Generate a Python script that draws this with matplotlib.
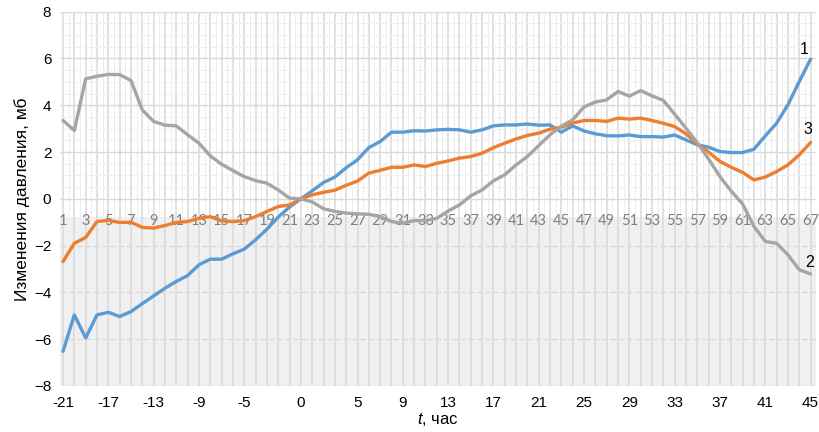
import numpy as np
import matplotlib.pyplot as plt

plt.rcParams['font.family'] = ['Liberation Sans', 'DejaVu Sans']
plt.rcParams['mathtext.fontset'] = 'custom'
plt.rcParams['mathtext.rm'] = 'Liberation Sans'
plt.rcParams['mathtext.it'] = 'Liberation Sans:italic'

# hours relative to the reference moment
hours = list(range(-21, 46))

# pressure change, mb
series_1 = [-6.52, -4.96, -5.95, -4.96, -4.85, -5.03, -4.82, -4.48, -4.15, -3.82,
            -3.53, -3.28, -2.82, -2.58, -2.58, -2.35, -2.15, -1.75, -1.30, -0.78,
            -0.35, 0.00, 0.34, 0.70, 0.93, 1.33, 1.67, 2.19, 2.45, 2.85,
            2.85, 2.91, 2.90, 2.95, 2.97, 2.95, 2.85, 2.95, 3.12, 3.16,
            3.16, 3.20, 3.15, 3.16, 2.85, 3.12, 2.90, 2.78, 2.70, 2.69,
            2.73, 2.66, 2.66, 2.64, 2.73, 2.52, 2.31, 2.21, 2.02, 1.98,
            1.98, 2.12, 2.69, 3.23, 4.02, 5.01, 5.97]
series_2 = [3.35, 2.92, 5.13, 5.24, 5.32, 5.31, 5.06, 3.80, 3.31, 3.15,
            3.12, 2.74, 2.38, 1.84, 1.48, 1.21, 0.95, 0.78, 0.67, 0.38,
            0.03, 0.00, -0.13, -0.42, -0.54, -0.61, -0.64, -0.66, -0.76, -0.97,
            -1.04, -0.93, -0.93, -0.83, -0.52, -0.26, 0.13, 0.38, 0.77, 1.03,
            1.45, 1.81, 2.28, 2.74, 3.11, 3.38, 3.93, 4.14, 4.23, 4.59,
            4.39, 4.63, 4.40, 4.21, 3.62, 3.02, 2.40, 1.70, 0.95, 0.33,
            -0.22, -1.18, -1.82, -1.90, -2.39, -3.03, -3.21]
series_3 = [-2.68, -1.90, -1.65, -0.97, -0.92, -1.01, -1.00, -1.22, -1.25, -1.14,
            -1.01, -0.97, -0.83, -0.76, -0.94, -0.97, -0.93, -0.76, -0.54, -0.33,
            -0.26, 0.00, 0.17, 0.28, 0.37, 0.58, 0.76, 1.10, 1.22, 1.35,
            1.35, 1.45, 1.38, 1.52, 1.62, 1.74, 1.81, 1.95, 2.19, 2.38,
            2.56, 2.71, 2.81, 2.98, 3.06, 3.24, 3.35, 3.35, 3.31, 3.45,
            3.41, 3.45, 3.35, 3.23, 3.09, 2.78, 2.36, 2.00, 1.60, 1.35,
            1.13, 0.81, 0.93, 1.17, 1.45, 1.88, 2.41]

bottom_ticks = [-21, -17, -13, -9, -5, 0, 5, 9, 13, 17, 21, 25, 29, 33, 37, 41, 45]
y_ticks = list(range(-8, 9, 2))

band_top = -0.76  # upper edge of the shaded lower panel

fig = plt.figure(figsize=(8.19, 4.32), dpi=100)
ax = fig.add_axes([0.0728, 0.1065, 0.9238, 0.8664])
ax.set_xlim(-21.3, 45.5)
ax.set_ylim(-8, 8)

# grid: white panel on top, light grey panel below
ax.axhspan(-8, band_top, color='#f0f0f0', lw=0, zorder=0)
t = np.array(hours)
ax.vlines(t, -8, 8, color='#d9d9d9', lw=1.1, zorder=1)
ax.vlines(t[:-1] + 0.5, band_top, 8, color='#ebebeb', lw=0.6, zorder=1)
for y in np.arange(0, 8, 0.5):
    if y % 2:
        ax.axhline(y, color='#efefef', lw=0.6, zorder=1)
for y in [0, 2, 4, 6, 8]:
    ax.axhline(y, color='#d9d9d9', lw=1.0, zorder=1)
for y in [-2, -4, -6]:
    ax.axhline(y, color='#d9d9d9', lw=1.0, ls=(0, (4, 2)), zorder=1)
ax.axhline(-8, color='#d9d9d9', lw=1.0, zorder=1)

# secondary row of point numbers
for n in range(1, 68, 2):
    ax.text(hours[n - 1], -0.95, str(n), ha='center', va='center',
            fontsize=10.5, color='#7f7f7f', family=['Lato', 'DejaVu Sans'], zorder=2)

ax.plot(hours, series_1, color='#5b9bd5', lw=2.4, zorder=3, solid_capstyle='round')
ax.plot(hours, series_3, color='#ed7d31', lw=2.4, zorder=3, solid_capstyle='round')
ax.plot(hours, series_2, color='#a5a5a5', lw=2.4, zorder=3, solid_capstyle='round')

ax.text(44.4, 6.37, '1', ha='center', va='center', fontsize=11.5)
ax.text(44.75, 2.95, '3', ha='center', va='center', fontsize=11.5)
ax.text(44.9, -2.74, '2', ha='center', va='center', fontsize=11.5)

ax.set_xticks(bottom_ticks)
ax.set_xticklabels([str(v) for v in bottom_ticks])
ax.set_yticks(y_ticks)
ax.tick_params(length=0, labelsize=11, pad=6)
ax.tick_params(axis='x', pad=7)
for s in ax.spines.values():
    s.set_visible(False)

ax.set_ylabel('Изменения давления, мб', fontsize=12.5, labelpad=3)
ax.set_xlabel('$t$, час', fontsize=12, labelpad=1)

fig.savefig('out.png', dpi=100)
